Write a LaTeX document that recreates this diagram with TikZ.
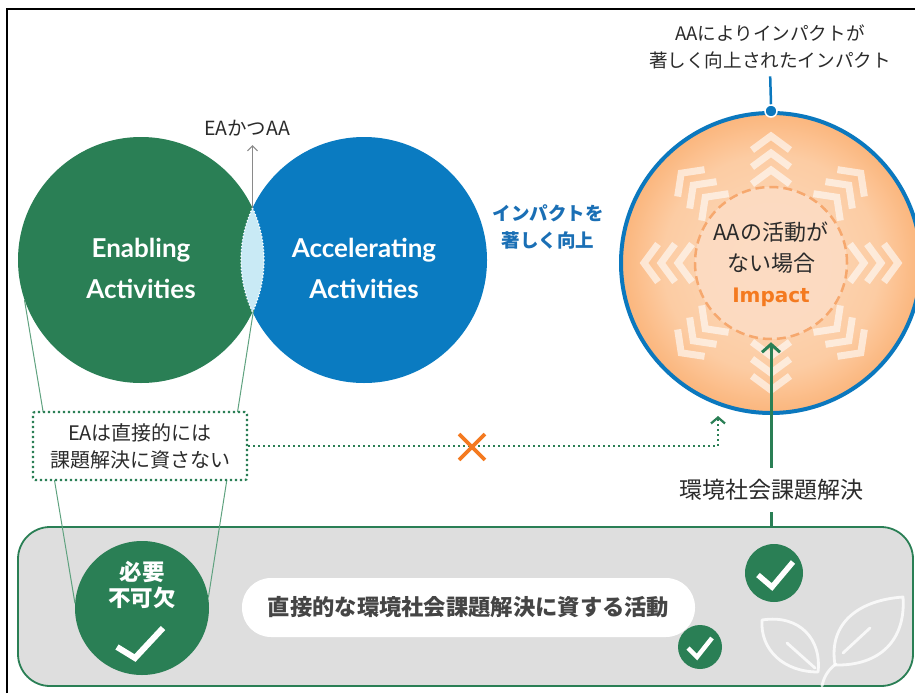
\documentclass[tikz,border=0pt]{standalone}
\usepackage{fontspec}
\setmainfont{Noto Sans CJK JP}
\newfontfamily\latofont{Lato}
\newfontfamily\dvsfont{DejaVu Sans}
\usetikzlibrary{arrows.meta,shapes.misc}

\definecolor{eagreen}{HTML}{2A7F55}
\definecolor{aablue}{HTML}{0A7BC1}
\definecolor{lensblue}{HTML}{C9EAF5}
\definecolor{ringblue}{HTML}{0B78BE}
\definecolor{peach}{HTML}{FDDCC4}
\definecolor{dashorange}{HTML}{F6A86E}
\definecolor{impactorange}{HTML}{F47A20}
\definecolor{txtdark}{HTML}{2B2B2B}
\definecolor{boosttxt}{HTML}{1A6FB5}
\definecolor{graybox}{HTML}{DEDEDE}
\definecolor{pilltxt}{HTML}{454545}
\definecolor{tanline}{HTML}{5FA27F}
\definecolor{arrowgray}{HTML}{8A8A8A}

\pgfdeclareradialshading{orangeglow}{\pgfpoint{0bp}{0bp}}{%
  rgb(0bp)=(0.99,0.86,0.75);
  rgb(18bp)=(0.99,0.80,0.64);
  rgb(30bp)=(0.98,0.65,0.38);
  rgb(50bp)=(0.96,0.53,0.18)}

\tikzset{
  disc/.style={circle, inner sep=0pt, minimum size=#1},
  vennlbl/.style={font=\latofont\bfseries\fontsize{26}{41}\selectfont, text=white, align=center},
  note/.style={font=\fontsize{#1}{27}\selectfont, text=txtdark, align=center, inner sep=1pt},
  boostlbl/.style={font=\bfseries\fontsize{18.5}{27}\selectfont, text=boosttxt, align=center},
  innertxt/.style={font=\fontsize{22}{31}\selectfont, text=txtdark, align=center},
  needtxt/.style={font=\bfseries\fontsize{22.5}{26}\selectfont, text=white, align=center},
  chev/.style={draw=white, draw opacity=0.6, line width=7pt, line join=miter},
  thinarrow/.style={draw=arrowgray, line width=1pt, -{Straight Barb[length=5pt,width=10pt]}},
  greenarrow/.style={draw=eagreen, line width=3pt, -{Straight Barb[length=8pt,width=18pt,line width=3pt]}},
  dotbox/.style={draw=eagreen, fill=white, line width=2.2pt, dash pattern=on 2.2pt off 2.8pt,
    rounded corners=2pt, minimum width=214pt, minimum height=68pt, align=center,
    font=\fontsize{20}{27}\selectfont, text=txtdark},
  dotarrow/.style={draw=eagreen, line width=2.2pt, dash pattern=on 2.2pt off 2.8pt,
    -{Straight Barb[length=6pt,width=14pt,line width=2.2pt]}},
  xmark/.style={cross out, draw=impactorange, line width=3.8pt, minimum size=22pt, inner sep=0pt},
  tangent/.style={draw=tanline, line width=1pt},
  pill/.style={fill=white, rounded corners=29pt, minimum width=453pt, minimum height=59pt,
    font=\bfseries\fontsize{22.3}{24}\selectfont, text=pilltxt},
  checkmark/.style={draw=white, line width=#1, line cap=butt, line join=miter},
  leaf/.style={draw=white, draw opacity=0.8, line width=2.8pt, line cap=round, line join=round},
}

\begin{document}
\begin{tikzpicture}[x=1pt,y=-1pt]
\useasboundingbox (0,0) rectangle (915,693);
\fill[white] (0,0) rectangle (915,693);
\draw[black, line width=1.3pt] (7,693) -- (7,9) -- (915,9);

% --- Enabling / Accelerating activities ---
\node[disc=246pt, fill=eagreen] (ea) at (141,260) {};
\node[disc=246pt, fill=aablue] (aa) at (364,260) {};
\begin{scope}
  \clip (ea.center) circle[radius=123];
  \fill[lensblue] (aa.center) circle[radius=123];
  \draw[white, line width=1.3pt, dotted] (aa.center) circle[radius=123];
\end{scope}
\begin{scope}
  \clip (aa.center) circle[radius=123];
  \draw[white, line width=1.3pt, dotted] (ea.center) circle[radius=123];
\end{scope}
\node[vennlbl] (ealbl) at (141,268) {Enabling\\Activities};
\node[vennlbl] (aalbl) at (364,268) {Accelerating\\Activities};
\coordinate (lenstop) at (252.5,208);
\node[note=19.5] (both) at (247,128) {EAかつAA};
\draw[thinarrow, shorten >=8pt] (lenstop) -- (both.south -| lenstop);

\node[boostlbl] (boost) at (548,227) {インパクトを\\著しく向上};

% --- Impact circle ---
\node[disc=300pt, shade, shading=orangeglow, draw=ringblue, line width=4pt] (imp) at (771,263) {};
\foreach \a in {0,45,...,315} {
  \begin{scope}[shift={(imp.center)}, rotate=\a]
    \foreach \d in {93,110,127}
      \draw[chev] (\d-14,19) -- (\d,0) -- (\d-14,-19);
  \end{scope}
}
\node[disc=152pt, fill=peach, fill opacity=0.85, draw=dashorange, line width=2.5pt,
      dash pattern=on 9pt off 5pt] (inner) at (771,263) {};
\node[innertxt] (innerlbl) at (771,264) {AAの活動が\\ない場合\\{\dvsfont\bfseries\fontsize{20}{31}\selectfont\color{impactorange}Impact}};

\node[disc=12pt, fill=ringblue, draw=white, line width=1.5pt] (dot) at (imp.north) {};
\node[note=18.6] (toplbl) at (770,47) {AAによりインパクトが\\著しく向上されたインパクト};
\draw[ringblue, line width=2.5pt, shorten >=6pt] (dot.north) -- (toplbl.south);

% --- contribution arrow ---
\coordinate (kstart) at (771,532);
\draw[greenarrow, shorten >=2pt] (kstart) -- (inner.south);
\node[note=23, fill=white, inner xsep=4pt, inner ysep=11pt] (kadai) at (771,490) {環境社会課題解決};

% --- base band ---
\node[draw=eagreen, line width=1.8pt, fill=graybox, rounded corners=32pt,
      minimum width=895pt, minimum height=159pt] (base) at (465.5,606.5) {};

\node[disc=134pt, fill=eagreen] (need) at (142,608) {};
\node[needtxt] (needlbl) at (142,585) {必要\\不可欠};
\draw[checkmark=6pt, shift={(need.center)}] (-25,39) -- (-7,50) -- (21,20);

\draw[tangent] (ea.-161) -- (need.176);
\draw[tangent] (ea.-24) -- (need.9);

\node[dotbox] (dbox) at (140,446) {EAは直接的には\\課題解決に資さない};
\coordinate (bend) at (718,446);
\coordinate (dend) at (718,416);
\draw[dotarrow] (dbox.east) -- (bend) -- (dend);
\node[xmark] (nox) at (472,447) {};

\node[pill] (pill) at (468.5,607.5) {直接的な環境社会課題解決に資する活動};

\node[disc=58pt, fill=eagreen] (chk1) at (774,573) {};
\draw[checkmark=5.5pt, shift={(chk1.center)}] (-16,2) -- (-2,14) -- (19,-11);
\node[disc=44pt, fill=eagreen] (chk2) at (700,647) {};
\draw[checkmark=4.5pt, shift={(chk2.center)}] (-12,1) -- (-3,10) -- (12,-9);

% --- sprout icon ---
\draw[leaf] (835,665) .. controls (828,622) and (860,600) .. (903,597)
            .. controls (906,640) and (880,666) .. (835,665);
\draw[leaf] (843,653) -- (870,628);
\draw[leaf] (762,620) .. controls (800,614) and (822,640) .. (818,672)
            .. controls (784,672) and (760,650) .. (762,620);
\draw[leaf] (787,643) -- (815,668);
\draw[leaf] (822,686) .. controls (824,676) and (829,669) .. (836,664);
\end{tikzpicture}
\end{document}
